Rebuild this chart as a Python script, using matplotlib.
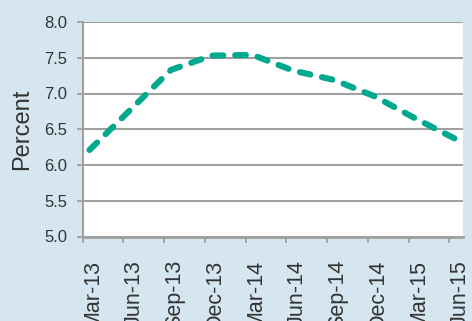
import matplotlib
matplotlib.use('Agg')
import matplotlib.pyplot as plt
from matplotlib.transforms import ScaledTranslation

plt.rcParams['font.family'] = ['Liberation Sans', 'DejaVu Sans']

# quarterly rate, percent
quarters = ['Mar-13', 'Jun-13', 'Sep-13', 'Dec-13', 'Mar-14',
            'Jun-14', 'Sep-14', 'Dec-14', 'Mar-15', 'Jun-15']
rate = [6.21, 6.77, 7.33, 7.53, 7.54, 7.32, 7.19, 6.96, 6.65, 6.36]

# months since start of Mar-13, points sit mid-month
xpos = [3 * i + 0.5 for i in range(len(quarters))]
tickpos = [3 * i for i in range(len(quarters))]

bg = '#D5E6F1'
grey = '#A0A0A0'
teal = '#00A88E'
txt = '#333333'

fig = plt.figure(figsize=(4.72, 3.21), dpi=100, facecolor=bg)
W, H = 472, 321
left, right, top, bottom = 82.7, 463, 22, 236.5
ax = fig.add_axes([left / W, 1 - bottom / H, (right - left) / W, (bottom - top) / H])
ax.set_facecolor('white')

ax.plot(xpos, rate, color=teal, lw=4.4, dashes=(1.75, 1.95),
        dash_capstyle='round', solid_capstyle='round', zorder=3)

ax.set_xlim(0, 28)
ax.set_ylim(5.0, 8.0)
ax.set_yticks([5.0 + 0.5 * i for i in range(7)])
ax.set_yticklabels(['%.1f' % (5.0 + 0.5 * i) for i in range(7)])
ax.yaxis.grid(True, color=grey, lw=1.5)
ax.set_axisbelow(True)

ax.set_xticks(tickpos)
ax.set_xticklabels([''] * len(tickpos))
ax.set_xticks(xpos, minor=True)
ax.set_xticklabels(quarters, minor=True, rotation=90, fontsize=15.5, color=txt)
ax.tick_params(axis='x', which='major', length=4, width=1.3, color=grey, direction='out')
ax.tick_params(axis='x', which='minor', length=0, pad=17)
ax.tick_params(axis='y', length=4, width=1.3, color=grey, pad=7, labelsize=12, labelcolor=txt)
for lab in ax.get_xticklabels(minor=True):
    lab.set_transform(lab.get_transform() + ScaledTranslation(2.5 / 72, 0, fig.dpi_scale_trans))

for s in ['top', 'right']:
    ax.spines[s].set_visible(False)
ax.spines['left'].set_color(grey)
ax.spines['left'].set_linewidth(1.5)
ax.spines['bottom'].set_color(grey)
ax.spines['bottom'].set_linewidth(2)

fig.text(22.5 / W, 1 - 129 / H, 'Percent', rotation=90, ha='center', va='center',
         fontsize=17, color=txt)

fig.savefig('out.png', dpi=100, facecolor=bg)
